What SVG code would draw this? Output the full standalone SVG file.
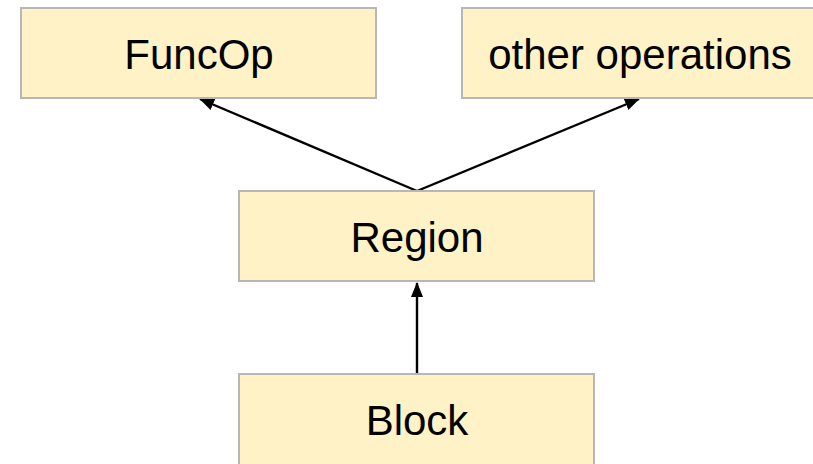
<svg xmlns="http://www.w3.org/2000/svg" width="813" height="464" viewBox="0 0 813 464">
  <style>
    .box { fill: #fff2c6; stroke: #b7b7b7; stroke-width: 2; }
    .label { font-family: "Liberation Sans", Arial, sans-serif; font-size: 42px; fill: #000; text-anchor: middle; }
    .edge { stroke: #000; stroke-width: 2.4; fill: none; marker-end: url(#arrow); }
  </style>
  <defs>
    <marker id="arrow" viewBox="0 0 15 12" refX="14" refY="6" markerWidth="15" markerHeight="12" markerUnits="userSpaceOnUse" orient="auto">
      <path d="M0,0 L15,6 L0,12 z" fill="#000"/>
    </marker>
  </defs>

  <g id="connectors">
    <line class="edge" x1="417" y1="191" x2="200" y2="99"/>
    <line class="edge" x1="417" y1="191" x2="639" y2="99"/>
    <line class="edge" x1="417" y1="374" x2="417" y2="283"/>
  </g>

  <g id="funcop">
    <rect class="box" x="21" y="8" width="355" height="90"/>
    <text class="label" x="199" y="69">FuncOp</text>
  </g>

  <g id="other-operations">
    <rect class="box" x="462" y="8" width="355" height="90"/>
    <text class="label" x="640" y="69">other operations</text>
  </g>

  <g id="region">
    <rect class="box" x="239" y="191" width="355" height="90"/>
    <text class="label" x="417" y="252">Region</text>
  </g>

  <g id="block">
    <rect class="box" x="239" y="374" width="355" height="100"/>
    <text class="label" x="417" y="435">Block</text>
  </g>
</svg>
